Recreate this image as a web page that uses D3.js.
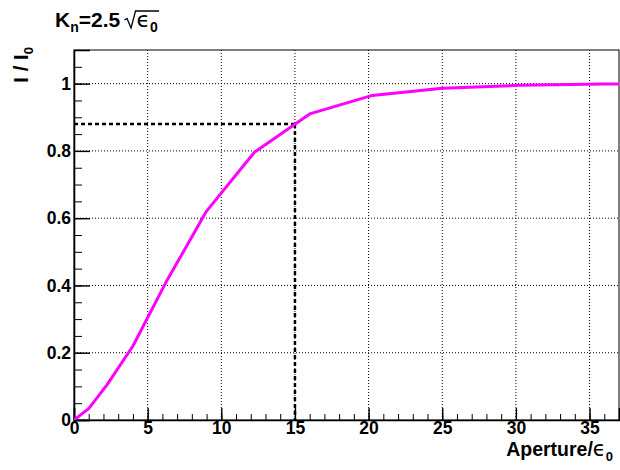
<!DOCTYPE html>
<html>
<head>
<meta charset="utf-8">
<script src="https://cdn.jsdelivr.net/npm/d3@7"></script>
<style>
  body { margin: 0; background: #fff; }
  svg text { font-family: "Liberation Sans", Arial, sans-serif; font-weight: bold; }
</style>
</head>
<body>
<div class="chart"></div>
<script>
// aperture in units of emittance, and the fraction of beam inside it
var apertures = [0, 1, 2.25, 4, 6.25, 9, 12.25, 16, 20.25, 25, 30.25, 36, 42.25];
var fractions = [0, 0.034, 0.105, 0.22, 0.41, 0.621, 0.796, 0.91, 0.965, 0.986, 0.995, 0.999, 1.0];

// the marked working point
var markAperture = [15];
var markFraction = [0.88];

var xMajor = [0, 5, 10, 15, 20, 25, 30, 35];
var yMajor = [0, 0.2, 0.4, 0.6, 0.8, 1];

function drawChart() {
    var svgWidth = 620;
    var svgHeight = 470;

    var svg = d3.select(".chart")
        .append("svg")
        .attr("width", svgWidth)
        .attr("height", svgHeight);

    var left = 74, right = 619, top = 50, bottom = 420;

    var x = d3.scaleLinear().domain([0, 37]).range([left, right]);
    var y = d3.scaleLinear().domain([0, 1.1]).range([bottom, top]);

    // clip for the curve
    svg.append("clipPath").attr("id", "plotclip")
        .append("rect")
        .attr("x", left).attr("y", top)
        .attr("width", right - left).attr("height", bottom - top);

    // dotted grid
    var grid = svg.append("g").attr("stroke", "#000").attr("stroke-width", 1)
        .attr("stroke-dasharray", "1,2");
    grid.selectAll(".gx").data(xMajor.filter(d => d > 0)).enter()
        .append("line")
        .attr("x1", d => x(d)).attr("x2", d => x(d))
        .attr("y1", bottom).attr("y2", top);
    grid.selectAll(".gy").data(yMajor.filter(d => d > 0)).enter()
        .append("line")
        .attr("y1", d => y(d)).attr("y2", d => y(d))
        .attr("x1", left).attr("x2", right);

    // frame
    svg.append("rect")
        .attr("x", left).attr("y", top)
        .attr("width", right - left).attr("height", bottom - top)
        .attr("fill", "none").attr("stroke", "#000").attr("stroke-width", 1);

    // minor ticks
    var xMinor = d3.axisBottom(x).tickValues(d3.range(0, 38, 1))
        .tickSize(-6).tickFormat("");
    var yMinor = d3.axisLeft(y).tickValues(d3.range(0, 1.1, 0.05))
        .tickSize(-8).tickFormat("");
    svg.append("g").attr("transform", `translate(0, ${bottom})`).call(xMinor)
        .call(g => g.select(".domain").remove());
    svg.append("g").attr("transform", `translate(${left}, 0)`).call(yMinor)
        .call(g => g.select(".domain").remove());

    // major ticks with labels
    var xAxis = d3.axisBottom(x).tickValues(xMajor).tickSize(-12).tickPadding(2)
        .tickFormat(d3.format("d"));
    var yAxis = d3.axisLeft(y).tickValues(yMajor).tickSize(-16).tickPadding(3)
        .tickFormat(d => d === 0 || d === 1 ? d : d3.format(".1f")(d));

    var gx = svg.append("g").attr("transform", `translate(0, ${bottom})`).call(xAxis);
    var gy = svg.append("g").attr("transform", `translate(${left}, 0)`).call(yAxis);
    [gx, gy].forEach(function(g) {
        g.attr("font-family", null).attr("font-size", null);
        g.select(".domain").attr("stroke-width", 1.6);
        g.selectAll(".tick line").attr("stroke-width", 1.4);
        g.selectAll("text").attr("font-size", 17.5).attr("fill", "#000");
    });

    // dashed marker lines
    var dash = svg.append("g").attr("stroke", "#000").attr("stroke-width", 2.5)
        .attr("stroke-dasharray", "4,3").attr("fill", "none");
    dash.selectAll(".hm").data(markAperture).enter().append("line")
        .attr("x1", x(0)).attr("x2", d => x(d))
        .attr("y1", (d, i) => y(markFraction[i])).attr("y2", (d, i) => y(markFraction[i]));
    dash.selectAll(".vm").data(markAperture).enter().append("line")
        .attr("x1", d => x(d)).attr("x2", d => x(d))
        .attr("y1", (d, i) => y(markFraction[i])).attr("y2", y(0));

    // curve
    var line = d3.line()
        .x((d, i) => x(apertures[i]))
        .y(d => y(d));
    svg.append("path")
        .datum(fractions)
        .attr("clip-path", "url(#plotclip)")
        .attr("d", line)
        .attr("fill", "none")
        .attr("stroke", "#ff00ff")
        .attr("stroke-width", 3)
        .attr("stroke-linejoin", "round");

    // x title
    var xt = svg.append("text")
        .attr("x", 613).attr("y", 456)
        .attr("text-anchor", "end")
        .attr("font-size", 19.5);
    xt.append("tspan").text("Aperture/");
    xt.append("tspan").attr("font-family", "DejaVu Sans").attr("font-weight", "normal")
        .attr("font-size", 21).text("ϵ");
    xt.append("tspan").attr("font-size", 13).attr("dy", 5).text("0");

    // y title
    var yt = svg.append("text")
        .attr("transform", "translate(28, 47) rotate(-90)")
        .attr("text-anchor", "end")
        .attr("font-size", 20.5);
    yt.append("tspan").text("I / I");
    yt.append("tspan").attr("font-size", 13).attr("dy", 5).text("0");

    // title K_n = 2.5 sqrt(eps0)
    var tt = svg.append("text").attr("x", 55).attr("y", 27).attr("font-size", 21);
    tt.append("tspan").text("K");
    tt.append("tspan").attr("font-size", 14).attr("dy", 5).text("n");
    tt.append("tspan").attr("dy", -5).text("=2.5");
    var tEnd = tt.node().getBBox();
    var rx = tEnd.x + tEnd.width + 4;
    var under = svg.append("text").attr("x", rx + 12).attr("y", 27).attr("font-size", 22);
    under.append("tspan").attr("font-family", "DejaVu Sans").attr("font-weight", "normal").text("ϵ");
    under.append("tspan").attr("font-size", 14).attr("dy", 5).text("0");
    var uw = under.node().getBBox().width;
    var by = 27;
    svg.append("path")
        .attr("d", `M${rx},${by - 7} L${rx + 2.5},${by - 8.5} L${rx + 6.5},${by + 1} L${rx + 11},${by - 16} L${rx + 13 + uw},${by - 16}`)
        .attr("fill", "none").attr("stroke", "#000").attr("stroke-width", 1.3);
}

drawChart();
</script>
</body>
</html>
